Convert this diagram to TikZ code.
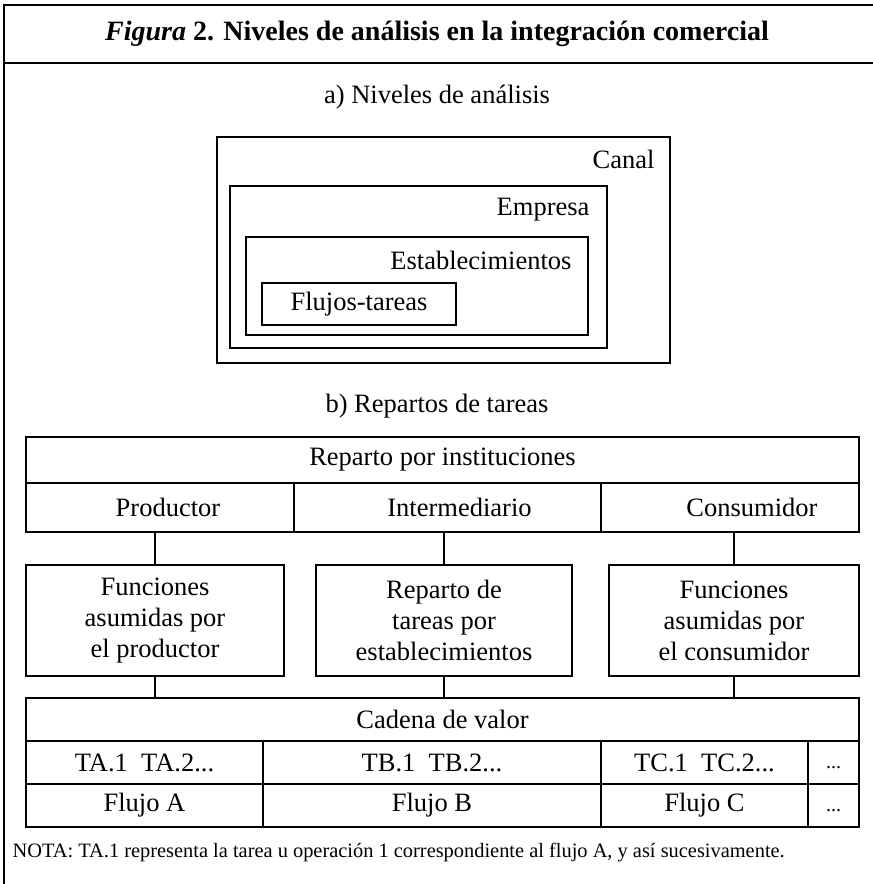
\documentclass[tikz,border=0pt]{standalone}
\usepackage{fontspec}
\setmainfont{Liberation Serif}
\usepackage{tikz}

\begin{document}
\begin{tikzpicture}[x=1pt, y=-1pt, line width=1.1pt,
    txt/.style={font=\fontsize{26.5}{31}\selectfont, inner sep=0pt},
    box/.style={draw, inner sep=0pt, outer sep=0pt, anchor=north west},
    cell/.style={box, minimum height=#1},
    fbox/.style={box, txt, align=center, minimum height=111pt},
    note/.style={font=\fontsize{20.4}{24}\selectfont, inner sep=0pt, anchor=west}]
    \useasboundingbox (0,0) rectangle (873,884);

    % Frame and title
    \draw (4,884) -- (4,5) -- (873,5);
    \draw (4,63) -- (873,63);
    \node[txt, font=\fontsize{28}{32}\selectfont] (title) at (437,34) {\bfseries\textit{Figura} 2. Niveles de análisis en la integración comercial};

    % a) Niveles de analisis (nested boxes)
    \node[txt] (tita) at (437,97) {a)\ Niveles de análisis};
    \node[box, minimum width=453pt, minimum height=226pt] (canal) at (217,137) {};
    \node[box, minimum width=377pt, minimum height=162pt] (empresa) at (230,186) {};
    \node[box, minimum width=342pt, minimum height=98pt] (estab) at (246,237) {};
    \node[box, txt, minimum width=194pt, minimum height=42pt] (flujos) at (262,283) {Flujos-tareas};
    \node[txt, anchor=east] at (655,159) {Canal};
    \node[txt, anchor=east] at (590,210) {Empresa};
    \node[txt, anchor=east] at (572,260) {Establecimientos};

    % b) Repartos de tareas
    \node[txt] (titb) at (437,406) {b)\ Repartos de tareas};
    \node[cell=46pt, minimum width=833pt] (inst) at (26,437) {};
    \node[txt] at (inst.center) {Reparto por instituciones};
    \node[cell=49pt, minimum width=268pt] (prod) at (26,483) {};
    \node[cell=49pt, minimum width=307pt] (inter) at (prod.north east) {};
    \node[cell=49pt, minimum width=258pt] (cons) at (inter.north east) {};
    \node[txt, xshift=8pt] at (prod.center) {Productor};
    \node[txt, xshift=12pt] at (inter.center) {Intermediario};
    \node[txt, xshift=22pt] at (cons.center) {Consumidor};

    % Functions of each institution
    \node[fbox, minimum width=258pt] (fprod) at (26,565) {Funciones\\asumidas por\\el productor};
    \node[fbox, minimum width=256pt] (finter) at (316,565) {Reparto de\\tareas por\\establecimientos};
    \node[fbox, minimum width=250pt] (fcons) at (609,565) {Funciones\\asumidas por\\el consumidor};

    % Value chain
    \node[cell=43pt, minimum width=833pt] (cadena) at (26,698) {};
    \node[txt] at (cadena.center) {Cadena de valor};
    \node[cell=43pt, minimum width=237pt] (ta) at (26,741) {};
    \node[cell=43pt, minimum width=338pt] (tb) at (ta.north east) {};
    \node[cell=43pt, minimum width=207pt] (tc) at (tb.north east) {};
    \node[cell=43pt, minimum width=51pt] (tx) at (tc.north east) {};
    \node[cell=43pt, minimum width=237pt] (fa) at (ta.south west) {};
    \node[cell=43pt, minimum width=338pt] (fb) at (fa.north east) {};
    \node[cell=43pt, minimum width=207pt] (fc) at (fb.north east) {};
    \node[cell=43pt, minimum width=51pt] (fx) at (fc.north east) {};
    \node[txt] at (ta.center) {TA.1\ \ TA.2...};
    \node[txt] at (tb.center) {TB.1\ \ TB.2...};
    \node[txt] at (tc.center) {TC.1\ \ TC.2...};
    \node[txt, font=\fontsize{20}{24}\selectfont] at (tx.center) {\vphantom{TA}...};
    \node[txt] at (fa.center) {Flujo A};
    \node[txt] at (fb.center) {Flujo B};
    \node[txt] at (fc.center) {Flujo C};
    \node[txt, font=\fontsize{20}{24}\selectfont] at (fx.center) {\vphantom{TA}...};

    % Connectors
    \draw (fprod.north) -- (fprod.north |- prod.south);
    \draw (finter.north) -- (finter.north |- inter.south);
    \draw (fcons.north) -- (fcons.north |- cons.south);
    \draw (fprod.south) -- (fprod.south |- cadena.north);
    \draw (finter.south) -- (finter.south |- cadena.north);
    \draw (fcons.south) -- (fcons.south |- cadena.north);

    % Note
    \node[note] (nota) at (12,853) {NOTA: TA.1 representa la tarea u operación 1 correspondiente al flujo A, y así sucesivamente.};
\end{tikzpicture}
\end{document}
